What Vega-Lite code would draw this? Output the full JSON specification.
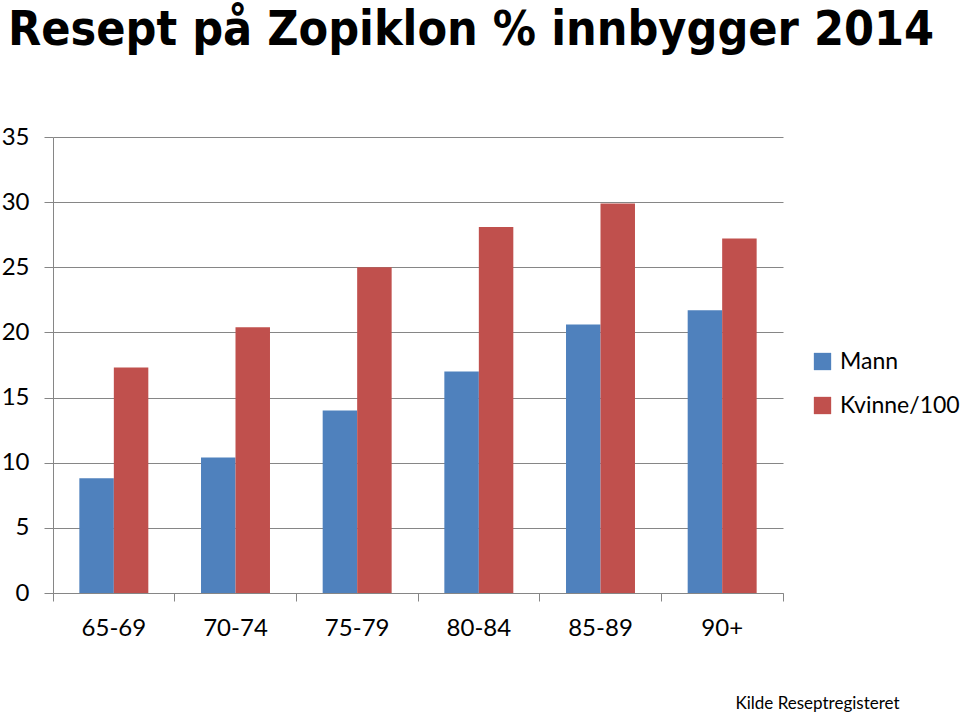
{
  "$schema": "https://vega.github.io/schema/vega-lite/v6.json",
  "autosize": "none",
  "width": 730,
  "height": 456,
  "padding": {"left": 53, "top": 137, "right": 177, "bottom": 119},
  "background": "white",
  "title": {
    "text": "Resept på Zopiklon % innbygger 2014",
    "anchor": "start",
    "frame": "group",
    "font": "DejaVu Sans Condensed",
    "fontWeight": "bold",
    "fontSize": 48,
    "color": "black",
    "baseline": "top",
    "offset": 0,
    "dx": -45,
    "dy": -70
  },
  "data": {
    "values": [
      {"Alder": "65-69", "Gruppe": "Mann", "Verdi": 8.8},
      {"Alder": "70-74", "Gruppe": "Mann", "Verdi": 10.4},
      {"Alder": "75-79", "Gruppe": "Mann", "Verdi": 14.0},
      {"Alder": "80-84", "Gruppe": "Mann", "Verdi": 17.0},
      {"Alder": "85-89", "Gruppe": "Mann", "Verdi": 20.6},
      {"Alder": "90+", "Gruppe": "Mann", "Verdi": 21.7},
      {"Alder": "65-69", "Gruppe": "Kvinne/100", "Verdi": 17.3},
      {"Alder": "70-74", "Gruppe": "Kvinne/100", "Verdi": 20.4},
      {"Alder": "75-79", "Gruppe": "Kvinne/100", "Verdi": 25.0},
      {"Alder": "80-84", "Gruppe": "Kvinne/100", "Verdi": 28.1},
      {"Alder": "85-89", "Gruppe": "Kvinne/100", "Verdi": 29.9},
      {"Alder": "90+", "Gruppe": "Kvinne/100", "Verdi": 27.2}
    ]
  },
  "mark": {"type": "bar"},
  "encoding": {
    "x": {
      "field": "Alder",
      "type": "nominal",
      "sort": null,
      "scale": {"paddingInner": 0, "paddingOuter": 0},
      "axis": {
        "title": "Kilde Reseptregisteret",
        "titleFont": "Lato",
        "titleFontSize": 17,
        "titleFontWeight": "normal",
        "titleColor": "black",
        "titleX": 764,
        "titleY": 115,
        "titleAlign": "center",
        "titleBaseline": "alphabetic",
        "labelAngle": 0,
        "labelFont": "Lato",
        "labelFontSize": 24,
        "labelColor": "black",
        "labelPadding": 15,
        "bandPosition": 1,
        "tickExtra": true,
        "tickSize": 8,
        "tickColor": "#868686",
        "domainColor": "#868686",
        "grid": false
      }
    },
    "xOffset": {
      "field": "Gruppe",
      "type": "nominal",
      "sort": ["Mann", "Kvinne/100"],
      "scale": {"paddingInner": 0, "paddingOuter": 0.764}
    },
    "y": {
      "field": "Verdi",
      "type": "quantitative",
      "scale": {"domain": [0, 35], "nice": false},
      "axis": {
        "title": null,
        "values": [0, 5, 10, 15, 20, 25, 30, 35],
        "labelFont": "Lato",
        "labelFontSize": 24,
        "labelColor": "black",
        "labelPadding": 15,
        "tickSize": 9,
        "tickColor": "#868686",
        "domainColor": "#868686",
        "gridColor": "#868686",
        "grid": true
      }
    },
    "color": {
      "field": "Gruppe",
      "type": "nominal",
      "scale": {"domain": ["Mann", "Kvinne/100"], "range": ["#4F81BD", "#C0504D"]},
      "legend": {
        "title": null,
        "orient": "none",
        "legendX": 758,
        "legendY": 213,
        "symbolType": "square",
        "symbolSize": 300,
        "symbolStrokeWidth": 0,
        "symbolOpacity": 1,
        "labelFont": "Lato",
        "labelFontSize": 23,
        "labelColor": "black",
        "labelOffset": 6,
        "rowPadding": 20
      }
    }
  },
  "config": {
    "view": {"stroke": null},
    "axis": {"domainWidth": 1, "tickWidth": 1, "gridWidth": 1}
  }
}
